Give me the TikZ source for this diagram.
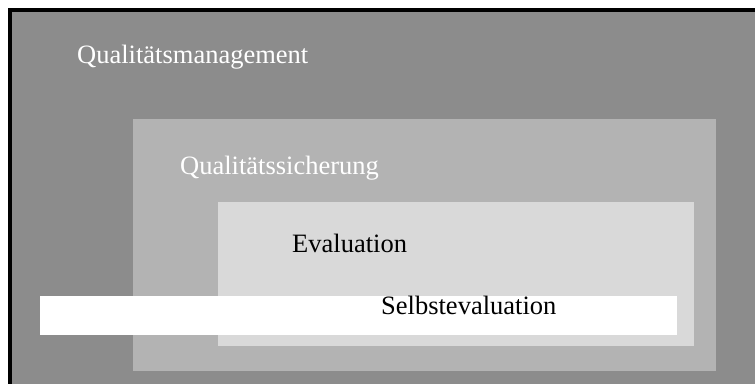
\documentclass[tikz,border=0pt]{standalone}
\usepackage{fontspec}
\setmainfont{Liberation Serif}

\definecolor{darkgrey}{HTML}{8C8C8C}
\definecolor{midgrey}{HTML}{B3B3B3}
\definecolor{lightgrey}{HTML}{D9D9D9}

\begin{document}
\begin{tikzpicture}[x=1pt,y=-1pt]

      \path[use as bounding box,clip] (0,0) rectangle (755,383);

      \fill[darkgrey] (10,10) rectangle (800,420);
      \draw[line width=4pt] (10,420) -- (10,10) -- (800,10);

      \fill[midgrey]   (133,119) rectangle (716,371);
      \fill[lightgrey] (218,202) rectangle (694,346);
      \fill[white]     (40,296)  rectangle (677,335);

      \begin{scope}[every node/.style={anchor=base west,inner sep=0pt,
          font=\fontsize{26.5}{30}\selectfont}]
        \node[white] (qm) at (77,63)  {Qualitätsmanagement};
        \node[white] (qs) at (180,174) {Qualitätssicherung};
        \node (ev) at (292,252) {Evaluation};
        \node (se) at (381,314) {Selbstevaluation};
      \end{scope}

    \end{tikzpicture}
\end{document}
